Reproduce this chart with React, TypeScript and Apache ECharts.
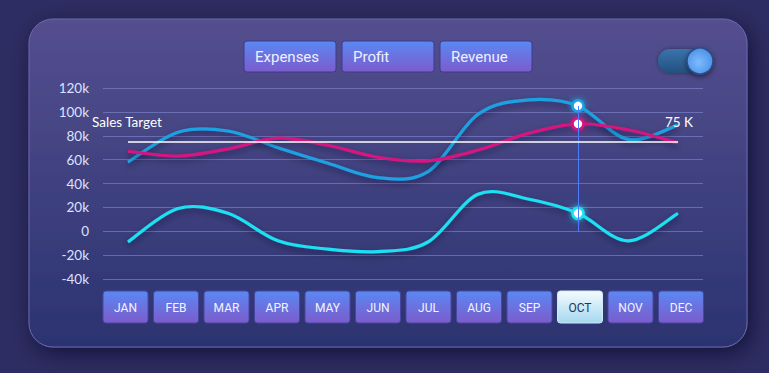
import React, { useEffect, useRef } from "react";
import * as echarts from "echarts";

const months = ["JAN", "FEB", "MAR", "APR", "MAY", "JUN", "JUL", "AUG", "SEP", "OCT", "NOV", "DEC"];
const revenue = [58, 83, 84, 70, 57, 45, 50, 98, 110, 105, 77, 89];
const expenses = [67, 63, 69, 78, 72, 62, 59, 68, 82, 90, 85, 74];
const profit = [-9, 19, 15, -8, -15, -17, -9, 31, 27, 15, -8, 15];
const salesTarget = 75;
const selectedMonth = "OCT";
const legendButtons = ["Expenses", "Profit", "Revenue"];
const yTicks = { min: -40, max: 120, interval: 20 };

const COLORS = { revenue: "#1ea2e2", expenses: "#d4157e", profit: "#1fe1f2" };

export default function App() {
  const ref = useRef<HTMLDivElement>(null);
  useEffect(() => {
    if (!ref.current) return;
    const chart = echarts.init(ref.current, null, { renderer: "svg" });
    const selIdx = months.indexOf(selectedMonth);

    const btnGrad = new echarts.graphic.LinearGradient(0, 0, 0, 1, [
      { offset: 0, color: "#5a88f3" },
      { offset: 1, color: "#7c5ccc" },
    ]);
    const selGrad = new echarts.graphic.LinearGradient(0, 0, 0, 1, [
      { offset: 0, color: "#f4fbff" },
      { offset: 1, color: "#a4d8ef" },
    ]);

    const graphics: any[] = [];
    graphics.push({
      type: "rect",
      z: -10,
      shape: { x: 29, y: 19, width: 718, height: 328, r: 24 },
      style: {
        fill: new echarts.graphic.LinearGradient(0, 0, 0, 1, [
          { offset: 0, color: "#544f8f" },
          { offset: 1, color: "#2b3370" },
        ]),
        stroke: "#6b66ad",
        lineWidth: 1,
        shadowBlur: 22,
        shadowColor: "rgba(5,5,30,0.6)",
        shadowOffsetX: 4,
        shadowOffsetY: 6,
      },
    });
    const legendX = [244, 342, 440];
    legendButtons.forEach((name, i) => {
      graphics.push({
        type: "group",
        z: 10,
        x: legendX[i],
        y: 41,
        children: [
          {
            type: "rect",
            shape: { x: 0, y: 0, width: 92, height: 31, r: 3 },
            style: { fill: btnGrad, stroke: "#3f3b8c", lineWidth: 1 },
          },
          {
            type: "text",
            x: 11,
            y: 16,
            style: {
              text: name,
              fill: "#eef0ff",
              fontSize: 15,
              fontFamily: "Roboto",
              verticalAlign: "middle",
            },
          },
        ],
      });
    });
    graphics.push({
      type: "rect",
      z: 10,
      shape: { x: 658, y: 49, width: 44, height: 24, r: 12 },
      style: {
        fill: new echarts.graphic.LinearGradient(0, 0, 0, 1, [
          { offset: 0, color: "#3a74ac" },
          { offset: 1, color: "#24507e" },
        ]),
        shadowBlur: 4,
        shadowColor: "rgba(0,0,0,0.4)",
      },
    });
    graphics.push({
      type: "circle",
      z: 11,
      shape: { cx: 700, cy: 61, r: 13 },
      style: {
        fill: new echarts.graphic.RadialGradient(0.45, 0.55, 0.6, [
          { offset: 0, color: "#7dbcff" },
          { offset: 1, color: "#4a8ee6" },
        ]),
        stroke: "#2c4c86",
        lineWidth: 1.5,
        shadowBlur: 5,
        shadowColor: "rgba(0,0,0,0.5)",
        shadowOffsetY: 2,
      },
    });
    graphics.push({
      type: "text",
      z: 10,
      x: 92,
      y: 122,
      style: { text: "Sales Target", fill: "#ffffff", fontSize: 13.5, fontFamily: "Lato", verticalAlign: "middle" },
    });
    graphics.push({
      type: "text",
      z: 10,
      x: 665,
      y: 122,
      style: { text: `${salesTarget} K`, fill: "#ffffff", fontSize: 13.5, fontFamily: "Lato", verticalAlign: "middle" },
    });
    months.forEach((m, i) => {
      const sel = i === selIdx;
      graphics.push({
        type: "group",
        z: 10,
        x: 103 + i * 50.5,
        y: 291,
        children: [
          {
            type: "rect",
            shape: { x: 0, y: 0, width: 45, height: 32, r: 3 },
            style: { fill: sel ? selGrad : btnGrad, stroke: sel ? "#cde9f7" : "#4a46a0", lineWidth: 1 },
          },
          {
            type: "text",
            x: 22.5,
            y: 16.5,
            style: {
              text: m,
              fill: sel ? "#22365a" : "#f2f4ff",
              fontSize: 12,
              fontFamily: "Roboto",
              align: "center",
              verticalAlign: "middle",
            },
          },
        ],
      });
    });

    // smooth curve drawn through the axis scales (Catmull-Rom style, like the original)
    const curveSeries = (name: string, data: number[], color: string) => ({
      name: name + " curve",
      type: "custom",
      coordinateSystem: "cartesian2d",
      data: [[0, data[0]]],
      silent: true,
      z: 2,
      renderItem: (_params: any, api: any) => {
        const pts = data.map((v, i) => api.coord([i, v]));
        let d = `M${pts[0][0]},${pts[0][1]}`;
        for (let i = 0; i < pts.length - 1; i++) {
          const p0 = pts[i - 1] || pts[i];
          const p1 = pts[i];
          const p2 = pts[i + 1];
          const p3 = pts[i + 2] || pts[i + 1];
          const c1x = p1[0] + (p2[0] - p0[0]) / 6;
          const c1y = p1[1] + (p2[1] - p0[1]) / 6;
          const c2x = p2[0] - (p3[0] - p1[0]) / 6;
          const c2y = p2[1] - (p3[1] - p1[1]) / 6;
          d += ` C${c1x},${c1y} ${c2x},${c2y} ${p2[0]},${p2[1]}`;
        }
        return {
          type: "path",
          shape: { pathData: d },
          style: {
            fill: "none",
            stroke: color,
            lineWidth: 3.2,
            shadowColor: "rgba(10,10,40,0.45)",
            shadowBlur: 6,
            shadowOffsetY: 3,
          },
        };
      },
    });

    const symSize = (_v: any, p: any) => (p.dataIndex === selIdx ? 11 : 0);
    const mkSeries = (name: string, data: number[], color: string, extra: any = {}) => ({
      name,
      type: "line",
      data,
      symbol: "circle",
      showSymbol: true,
      symbolSize: symSize,
      lineStyle: { opacity: 0 },
      itemStyle: { color: "#ffffff", borderColor: color, borderWidth: 2.5, shadowColor: color, shadowBlur: 6 },
      emphasis: { disabled: true },
      z: 4,
      ...extra,
    });

    chart.setOption({
      animation: false,
      backgroundColor: "#2e2d63",
      graphic: graphics,
      grid: { left: 103, width: 600, top: 88, height: 191, containLabel: false },
      xAxis: {
        type: "category",
        data: months,
        boundaryGap: true,
        axisLine: { show: false },
        axisTick: { show: false },
        axisLabel: { show: false },
        splitLine: { show: false },
      },
      yAxis: {
        type: "value",
        min: yTicks.min,
        max: yTicks.max,
        interval: yTicks.interval,
        axisLine: { show: false },
        axisTick: { show: false },
        axisLabel: {
          color: "#dbe2ff",
          fontSize: 13.5,
          fontFamily: "Lato",
          margin: 14,
          formatter: (v: number) => (v === 0 ? "0" : `${v}k`),
        },
        splitLine: { lineStyle: { color: "rgba(130,138,210,0.6)", width: 1 } },
      },
      series: [
        curveSeries("Revenue", revenue, COLORS.revenue),
        curveSeries("Expenses", expenses, COLORS.expenses),
        curveSeries("Profit", profit, COLORS.profit),
        mkSeries("Revenue", revenue, COLORS.revenue, {
          markLine: {
            silent: true,
            symbol: "none",
            label: { show: false },
            lineStyle: { color: "#4d7dff", width: 1, type: "solid", opacity: 1 },
            data: [
              [
                { coord: [selectedMonth, revenue[selIdx]] },
                { coord: [selectedMonth, 0] },
              ],
            ],
          },
        }),
        mkSeries("Expenses", expenses, COLORS.expenses, {
          markLine: {
            silent: true,
            symbol: "none",
            label: { show: false },
            lineStyle: { color: "#ffffff", width: 1.5, type: "solid", opacity: 1 },
            data: [
              [
                { coord: [months[0], salesTarget] },
                { coord: [months[months.length - 1], salesTarget] },
              ],
            ],
          },
        }),
        mkSeries("Profit", profit, COLORS.profit),
      ],
    });
    return () => chart.dispose();
  }, []);
  return (
    <div
      ref={ref}
      style={{ position: "absolute", left: 0, top: 0, width: 769, height: 373 }}
    />
  );
}
